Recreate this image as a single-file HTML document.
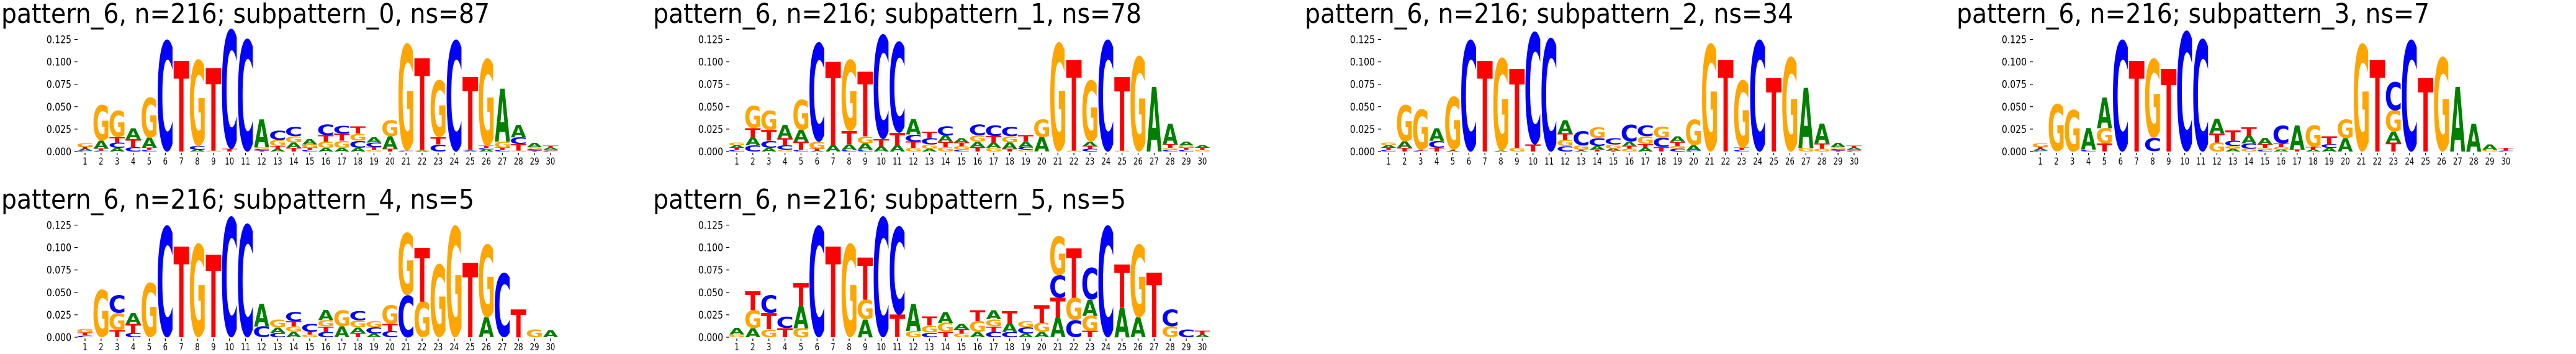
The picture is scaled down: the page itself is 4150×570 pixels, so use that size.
<!DOCTYPE html>
<html><head><meta charset="utf-8"><style>
html,body{margin:0;padding:0;background:#fff;width:4150px;height:570px;overflow:hidden;}
svg{display:block;}
</style></head><body>
<svg id="fig" width="4150" height="570" xmlns="http://www.w3.org/2000/svg" style="overflow:hidden"></svg>
<script>
// values in thousandths (0.001 units)
const titles = ["pattern_6, n=216; subpattern_0, ns=87","pattern_6, n=216; subpattern_1, ns=78","pattern_6, n=216; subpattern_2, ns=34","pattern_6, n=216; subpattern_3, ns=7","pattern_6, n=216; subpattern_4, ns=5","pattern_6, n=216; subpattern_5, ns=5"];
const yTicks = [0, 0.025, 0.05, 0.075, 0.1, 0.125];
const yTickLabels = ["0.000","0.025","0.050","0.075","0.100","0.125"];
const positions = [1,2,3,4,5,6,7,8,9,10,11,12,13,14,15,16,17,18,19,20,21,22,23,24,25,26,27,28,29,30];

const p0A = [2,9,4,12,11,0,0,2,0,0,0,31,3,6,6,4,4,4,6,14,0,1,0,0,1,2,59,14,5,2];
const p0C = [1,1,6,5,2,125,0,4,0,134,126,2,10,10,2,12,9,8,5,0,1,0,8,125,1,2,2,8,2,1];
const p0G = [4,40,30,0,45,0,0,97,1,0,0,2,7,7,4,7,8,8,2,18,120,1,64,0,0,98,7,1,2,1];
const p0T = [2,2,6,9,2,0,101,0,92,3,0,1,3,4,2,7,8,8,3,3,0,102,8,0,81,2,2,7,1,2];

const p1A = [3,9,4,15,13,1,7,6,7,6,7,17,3,7,5,6,6,7,6,16,0,0,5,0,0,0,72,23,4,3];
const p1C = [2,7,8,5,2,111,0,2,2,117,102,8,7,10,2,12,12,10,3,0,0,0,3,125,0,0,0,2,2,0];
const p1G = [3,25,22,2,34,8,0,80,8,0,0,4,5,5,4,7,4,7,2,20,122,1,69,0,1,107,0,2,3,2];
const p1T = [2,10,12,8,9,2,93,15,72,8,14,7,7,6,4,5,7,3,7,0,0,101,3,0,82,0,0,4,2,2];

const p2A = [3,7,0,14,1,0,0,1,0,0,0,15,1,4,2,5,4,0,6,6,0,0,0,0,0,0,67,22,5,2];
const p2C = [2,0,1,8,0,125,0,0,0,126,127,6,16,9,7,19,12,10,3,1,0,0,2,125,0,0,0,0,2,1];
const p2G = [3,41,45,0,59,0,0,104,4,0,0,7,5,12,5,3,9,13,3,29,121,0,76,0,0,106,4,3,2,1];
const p2T = [2,4,1,4,1,0,101,0,88,8,0,7,1,2,1,3,4,5,5,0,0,102,2,0,82,0,0,6,1,2];

const p3A = [2,0,0,24,34,0,0,0,0,0,0,16,3,9,7,2,27,2,4,15,0,0,12,0,0,0,72,31,6,0];
const p3C = [1,0,0,2,0,125,0,15,0,135,126,0,6,6,2,20,0,0,4,0,0,0,32,125,0,0,0,0,0,1];
const p3G = [4,53,47,0,17,0,0,89,0,0,0,10,3,3,2,3,0,24,0,21,121,0,24,0,0,106,0,0,2,0];
const p3T = [2,0,0,0,9,0,101,0,92,0,0,10,11,9,4,4,2,3,9,0,0,102,10,0,82,0,0,0,0,3];

const p4A = [0,0,0,12,0,0,0,0,0,0,0,25,6,6,0,11,12,6,4,0,0,0,0,0,0,22,0,0,0,8];
const p4C = [2,0,20,5,0,125,0,0,0,135,127,12,5,10,9,6,0,10,7,7,47,0,0,0,0,0,72,0,0,0];
const p4G = [4,53,19,0,61,0,0,105,0,0,0,0,9,6,3,7,18,8,7,21,70,40,82,125,0,82,0,0,9,0];
const p4T = [3,0,8,10,0,0,101,0,92,0,0,0,0,6,3,6,0,5,0,8,0,60,0,0,83,0,0,31,0,0];

const p5A = [7,10,0,0,25,0,0,0,20,0,0,30,0,12,6,6,10,10,4,6,22,0,18,0,33,22,0,0,0,3];
const p5C = [0,0,20,13,0,125,0,0,0,135,99,0,5,0,0,0,6,6,7,0,25,19,36,125,0,0,0,19,9,0];
const p5G = [3,20,9,0,10,0,0,105,22,0,0,7,8,10,4,12,8,0,7,10,44,25,17,0,0,82,0,12,0,0];
const p5T = [0,21,18,10,25,0,101,0,47,0,25,0,10,6,5,12,6,13,0,20,22,55,7,0,48,0,72,0,0,4];

const panels = [[p0A,p0C,p0G,p0T],[p1A,p1C,p1G,p1T],[p2A,p2C,p2G,p2T],[p3A,p3C,p3G,p3T],[p4A,p4C,p4G,p4T],[p5A,p5C,p5G,p5T]];

const NS = "http://www.w3.org/2000/svg";
const svg = document.getElementById('fig');
const letters = ['A','C','G','T'];
const colors = {A:'#008000',C:'#0000ff',G:'#ffa500',T:'#ff0000'};
const glyph = {A:[0,0.774,0,0.729],C:[0.049,0.686,-0.013,0.742],G:[0.049,0.763,-0.013,0.742],T:[0.009,0.673,0,0.729]};
const X0 = 137, DX = 25.86, Y0 = 244, PX_PER_UNIT = 1444, LW = 24.5;
function xs(i){ return X0 + i*DX; }
function ys(v){ return Y0 - v*PX_PER_UNIT; }
function mk(tag, attrs, parent){ const e=document.createElementNS(NS,tag); for(const k in attrs) e.setAttribute(k,attrs[k]); parent.appendChild(e); return e; }

panels.forEach((pd, pi) => {
  const col = pi % 4, row = Math.floor(pi/4);
  const g = mk('g',{transform:`translate(${col*1050},${row*299})`},svg);
  
  
  const t = mk('text',{x:2,y:37,'font-family':'DejaVu Sans, Liberation Sans, sans-serif','font-size':39.4,fill:'#000',transform:'translate(0,37) scale(1,1.1) translate(0,-37)'},g);
  t.textContent = titles[pi];
  
  
  const ya = mk('g',{},g);
  
  
  yTicks.forEach((v,k)=>{
    const y = ys(v);
    mk('line',{x1:120,x2:125,y1:y,y2:y,stroke:'#000','stroke-width':1.2},ya);
    const l = mk('text',{x:115,y:y+5,'text-anchor':'end','font-family':'DejaVu Sans, Liberation Sans, sans-serif','font-size':14,fill:'#000',transform:`translate(0,${y}) scale(1,1.2) translate(0,${-y})`},ya);
    l.textContent = yTickLabels[k];
    
    
  });
  const xa = mk('g',{},g);
  
  
  positions.forEach((p,i)=>{
    const x = xs(i);
    mk('line',{x1:x,x2:x,y1:246,y2:250,stroke:'#000','stroke-width':1.2},xa);
    const l = mk('text',{x:x,y:265,'text-anchor':'middle','font-family':'DejaVu Sans, Liberation Sans, sans-serif','font-size':13,fill:'#000',transform:`translate(${x},265) scale(0.9,1.2) translate(${-x},-265)`},xa);
    l.textContent = p;
    
    
  });
  positions.forEach((p,i)=>{
    const stack = letters.map((L,li)=>({L, v: pd[li][i]/1000})).filter(o=>o.v>0).sort((a,b)=>a.v-b.v);
    let base = 0;
    stack.forEach(o=>{
      const yb = ys(base), yt = ys(base+o.v);
      const h = yb - yt;
      const gm = glyph[o.L];
      const sx = LW/((gm[1]-gm[0])*100), sy = h/((gm[3]-gm[2])*100);
      const xl = xs(i) - LW/2;
      const tx = mk('text',{x:-gm[0]*100,y:gm[3]*100,'font-family':'DejaVu Sans, Liberation Sans, sans-serif','font-weight':'bold','font-size':100,fill:colors[o.L],transform:`translate(${xl},${yt}) scale(${sx},${sy})`},g);
      tx.textContent = o.L;
      
      
      base += o.v;
    });
  });
});
</script>
</body></html>
